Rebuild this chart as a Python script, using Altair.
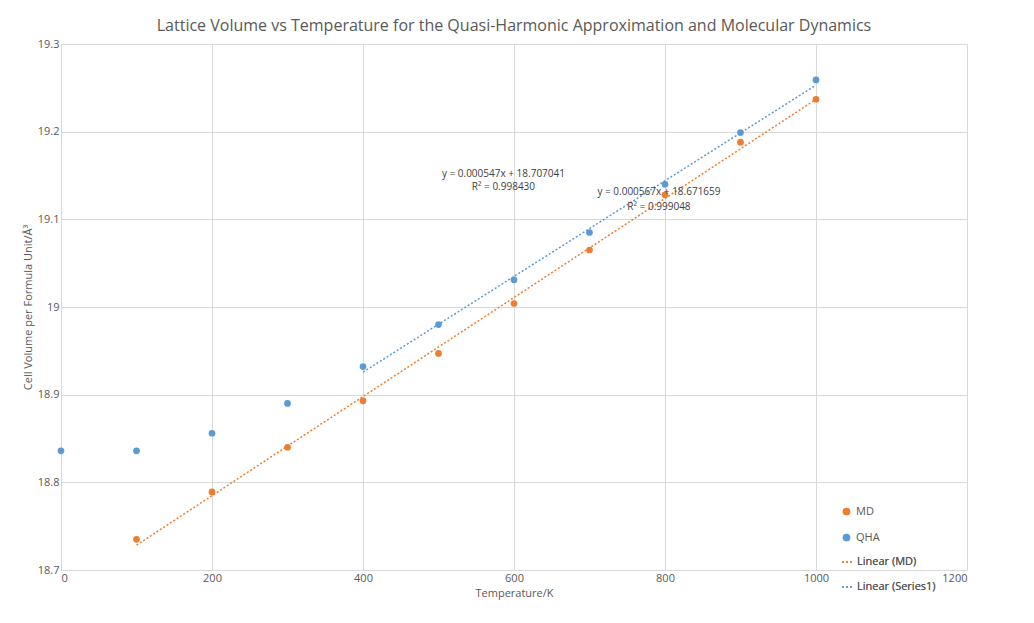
import pandas as pd
import altair as alt

temps = [0, 100, 200, 300, 400, 500, 600, 700, 800, 900, 1000]
qha_vol = [18.836, 18.836, 18.856, 18.890, 18.932, 18.980, 19.031, 19.085, 19.140, 19.199, 19.259]
md_temps = [100, 200, 300, 400, 500, 600, 700, 800, 900, 1000]
md_vol = [18.735, 18.789, 18.840, 18.893, 18.947, 19.004, 19.065, 19.128, 19.188, 19.237]

points = pd.concat([
    pd.DataFrame({"T": md_temps, "V": md_vol, "series": "MD"}),
    pd.DataFrame({"T": temps, "V": qha_vol, "series": "QHA"}),
])
fit_md = pd.DataFrame({"T": md_temps, "V": md_vol, "series": "Linear (MD)"})
fit_qha = pd.DataFrame({"T": temps[4:], "V": qha_vol[4:], "series": "Linear (Series1)"})

notes = pd.DataFrame({
    "T": [586, 586, 792, 792],
    "V": [19.152, 19.137, 19.131, 19.114],
    "label": ["y = 0.000547x + 18.707041", "R² = 0.998430",
              "y = 0.000567x + 18.671659", "R² = 0.999048"],
})

font = "Open Sans"
xs = alt.Scale(domain=[0, 1200], nice=False)
ys = alt.Scale(domain=[18.7, 19.3], nice=False, zero=False)
xax = alt.X("T:Q", scale=xs, title="Temperature/K",
            axis=alt.Axis(values=list(range(0, 1201, 200)), tickSize=0, format="d"))
yax = alt.Y("V:Q", scale=ys, title="Cell Volume per Formula Unit/Å³",
            axis=alt.Axis(values=[18.7, 18.8, 18.9, 19.0, 19.1, 19.2, 19.3], tickSize=0,
                          labelExpr="datum.value == 19 ? '19' : format(datum.value, '.1f')"))

dots = alt.Chart(points).mark_circle(size=45, opacity=1).encode(
    x=xax, y=yax,
    color=alt.Color("series:N", scale=alt.Scale(domain=["MD", "QHA"], range=["#ED7D31", "#5B9BD5"]),
                    legend=alt.Legend(title=None, orient="none", legendX=780, legendY=462,
                                      symbolSize=60, labelFontSize=11, rowPadding=14)),
)

def trend(df):
    return alt.Chart(df).transform_regression("T", "V", groupby=["series"], extent=[df["T"].min(), df["T"].max()]).mark_line(
        strokeDash=[2, 2], strokeWidth=1.5).encode(
        x=alt.X("T:Q", scale=xs), y=alt.Y("V:Q", scale=ys),
        stroke=alt.Stroke("series:N", scale=alt.Scale(domain=["Linear (MD)", "Linear (Series1)"],
                                                      range=["#ED7D31", "#5B9BD5"]),
                          legend=alt.Legend(title=None, orient="none", legendX=780, legendY=512,
                                            symbolType="stroke", symbolDash=[2, 2], symbolStrokeWidth=1.5,
                                            labelFontSize=11, rowPadding=14)),
    )

text = alt.Chart(notes).mark_text(fontSize=10, color="#404040", font=font).encode(
    x=alt.X("T:Q", scale=xs), y=alt.Y("V:Q", scale=ys), text="label:N")

chart = alt.layer(dots, trend(fit_md), trend(fit_qha), text).resolve_scale(
    color="independent", stroke="independent"
).properties(
    width=1000, height=600, autosize=alt.AutoSizeParams(type="fit", contains="padding"),
    title=alt.Title("Lattice Volume vs Temperature for the Quasi-Harmonic Approximation and Molecular Dynamics",
                    fontSize=16, fontWeight="normal", color="#595959", font=font),
    padding={"left": 14, "right": 40, "top": 10, "bottom": 10},
    background="white",
).configure_axis(
    labelFont=font, titleFont=font, labelColor="#595959", titleColor="#595959",
    labelFontSize=11, titleFontSize=11, titleFontWeight="normal",
    gridColor="#d9d9d9", domainColor="#d9d9d9",
).configure_legend(labelFont=font, labelColor="#595959"
).configure_view(stroke=None)

chart.save("out.html", embed_options={"renderer": "svg", "actions": False})
